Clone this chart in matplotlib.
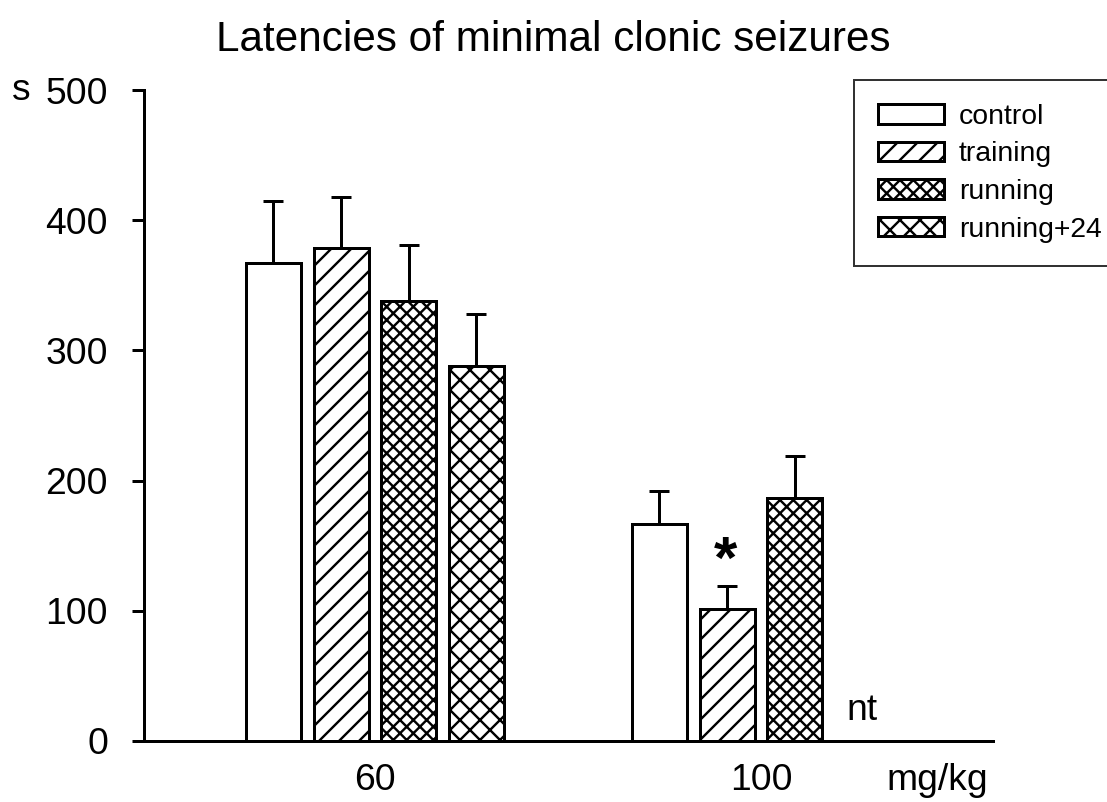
import numpy as np
import matplotlib
matplotlib.use('Agg')
import matplotlib.pyplot as plt

# 数据
doses = ['60', '100']
series = ['control', 'training', 'running', 'running+24']
hatches = ['', '////', 'xxxxxx', 'xxxx']

means = {
    'control':    [367, 167],
    'training':   [379, 101],
    'running':    [338, 187],
    'running+24': [288, None],   # 100 mg/kg: nt
}
sems = {
    'control':    [48, 25],
    'training':   [39, 18],
    'running':    [43, 32],
    'running+24': [40, None],
}
yticks = [0, 100, 200, 300, 400, 500]

# dpi 240 -> 1 pt = 240/72 px, helper to think in pixels
DPI = 240
PX = 72.0 / DPI

plt.rcParams['font.family'] = ['Liberation Sans', 'DejaVu Sans']
plt.rcParams['hatch.linewidth'] = 2.4 * PX
plt.rcParams['hatch.color'] = 'black'

fig = plt.figure(figsize=(1107 / DPI, 802 / DPI), dpi=DPI)
fig.patch.set_facecolor('white')
ax = fig.add_axes([144 / 1107, 61 / 802, 849 / 1107, 651 / 802])

step = 0.1754
width = 0.1425
lw = 3.0 * PX
x_groups = np.arange(len(doses))

for i, name in enumerate(series):
    xs, ys, es = [], [], []
    for g in range(len(doses)):
        if means[name][g] is None:
            continue
        xs.append(x_groups[g] + (i - 1.5) * step)
        ys.append(means[name][g])
        es.append(sems[name][g])
    ax.bar(xs, ys, width=width, facecolor='white', edgecolor='black',
           linewidth=lw, hatch=hatches[i], label=name, zorder=2)
    ax.errorbar(xs, ys, yerr=[np.zeros(len(es)), es], fmt='none',
                ecolor='black', elinewidth=lw, capsize=10 * PX,
                capthick=lw, zorder=1)

ax.set_xlim(-0.598, 1.601)
ax.set_ylim(0, 500)
ax.set_yticks(yticks)
ax.set_xticks(x_groups)
ax.set_xticklabels(doses)

for s in ['top', 'right']:
    ax.spines[s].set_visible(False)
for s in ['left', 'bottom']:
    ax.spines[s].set_linewidth(lw)

fs = 11.2
tick_pad = 22 * PX
ax.tick_params(axis='y', direction='out', length=12 * PX, width=lw,
               pad=24 * PX, labelsize=fs)
ax.tick_params(axis='x', length=0, pad=tick_pad, labelsize=fs)

# 附加文字
fig.text(0.5, 1 - 40 / 802, 'Latencies of minimal clonic seizures',
         ha='center', va='center', fontsize=12.7)
fig.text(21 / 1107, 1 - 91 / 802, 's', ha='center', va='center', fontsize=fs)
ax.text(1 + 1.5 * step, 10, 'nt', ha='center', va='bottom', fontsize=fs)
ax.annotate('mg/kg', xy=(1.456, 0), xycoords=('data', 'axes fraction'),
            xytext=(0, -tick_pad), textcoords='offset points',
            ha='center', va='top', fontsize=fs)
ax.text(1 - 0.52 * step, 125, '*', ha='center', va='baseline',
        fontsize=18, fontweight='bold')

# 图例（右上，框的右边贴着画布边缘）
leg = ax.legend(loc='upper left', bbox_to_anchor=(854 / 1107, 1 - 80 / 802),
                bbox_transform=fig.transFigure, fontsize=8.5,
                frameon=True, fancybox=False, handlelength=2.33,
                handleheight=0.67, labelspacing=0.41, borderpad=0.84,
                handletextpad=0.53, borderaxespad=0)
leg.get_frame().set_edgecolor('black')
leg.get_frame().set_linewidth(2.0 * PX)

fig.savefig('out.png', dpi=DPI, facecolor='white')
